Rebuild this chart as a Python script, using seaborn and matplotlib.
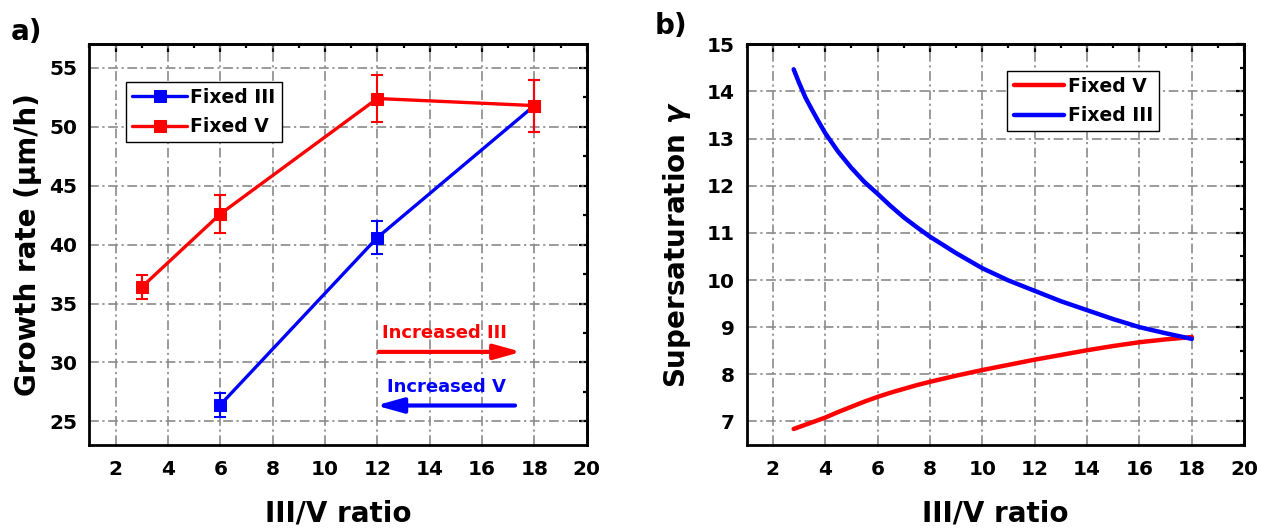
import matplotlib
matplotlib.use("Agg")
import matplotlib.pyplot as plt
from matplotlib.ticker import MultipleLocator
import seaborn as sns

# ---------------- data ----------------
# panel a: growth rate vs III/V ratio
fixed_iii_x = [6, 12, 18]
fixed_iii_y = [26.4, 40.6, 51.8]
fixed_iii_err = [1.0, 1.4, 2.2]

fixed_v_x = [3, 6, 12, 18]
fixed_v_y = [36.4, 42.6, 52.4, 51.8]
fixed_v_err = [1.05, 1.65, 2.0, 2.2]

# panel b: supersaturation vs III/V ratio
ratio_b = [2.8, 3.0, 3.25, 3.5, 3.75, 4.0, 4.5, 5.0, 5.5, 6.0, 6.5, 7.0, 7.5, 8.0,
           9, 10, 11, 12, 13, 14, 15, 16, 17, 18]
gamma_fixed_v = [6.84, 6.88, 6.93, 6.98, 7.03, 7.08, 7.20, 7.31, 7.42, 7.52, 7.61,
                 7.69, 7.77, 7.84, 7.97, 8.09, 8.20, 8.31, 8.41, 8.51, 8.60, 8.68,
                 8.74, 8.79]
gamma_fixed_iii = [14.47, 14.19, 13.87, 13.61, 13.36, 13.12, 12.72, 12.38, 12.08,
                   11.83, 11.57, 11.33, 11.12, 10.92, 10.57, 10.25, 9.99, 9.77, 9.55,
                   9.36, 9.17, 9.00, 8.87, 8.75]

x_ticks = [2, 4, 6, 8, 10, 12, 14, 16, 18, 20]
ya_ticks = [25, 30, 35, 40, 45, 50, 55]
yb_ticks = [7, 8, 9, 10, 11, 12, 13, 14, 15]

RED = "#ff0000"
BLUE = "#0000ff"

# ---------------- style ----------------
sns.set_style("white")
plt.rcParams["font.family"] = ["DejaVu Sans"]
plt.rcParams["font.weight"] = "bold"
plt.rcParams["axes.labelweight"] = "bold"
plt.rcParams["lines.scale_dashes"] = False
plt.rcParams["text.color"] = "black"
plt.rcParams["axes.labelcolor"] = "black"
plt.rcParams["xtick.color"] = "black"
plt.rcParams["ytick.color"] = "black"

fig = plt.figure(figsize=(12.64, 5.30), dpi=100)
ax_a = fig.add_axes([0.0707, 0.1604, 0.3935, 0.756])
ax_b = fig.add_axes([0.5906, 0.1604, 0.3938, 0.756])

TICK_FS = 14.5
LABEL_FS = 20
GRID_LS = (0, (7, 2.6, 1.6, 2.6))


def style_axes(ax, yticks, yminor, ylim):
    ax.set_xlim(1, 20)
    ax.set_ylim(*ylim)
    ax.set_xticks(x_ticks)
    ax.set_yticks(yticks)
    ax.xaxis.set_minor_locator(MultipleLocator(1))
    ax.yaxis.set_minor_locator(MultipleLocator(yminor))
    ax.set_axisbelow(True)
    ax.grid(True, which="major", color="#8a8a8a", linestyle=GRID_LS, linewidth=1.2)
    for s in ax.spines.values():
        s.set_linewidth(2.0)
        s.set_color("black")
        s.set_visible(True)
    ax.tick_params(axis="both", which="major", direction="out", length=5.5, width=1.6,
                   labelsize=TICK_FS, colors="black", pad=3)
    ax.tick_params(axis="both", which="minor", direction="out", length=3.2, width=1.6)
    ax.tick_params(axis="x", which="major", pad=5)
    for lab in ax.get_xticklabels() + ax.get_yticklabels():
        lab.set_fontweight("bold")
    # inward ticks on top and right
    top = ax.secondary_xaxis("top")
    top.set_xticks(x_ticks)
    top.xaxis.set_minor_locator(MultipleLocator(1))
    top.tick_params(axis="x", which="major", direction="in", length=5.5, width=1.6,
                    labeltop=False, labelbottom=False)
    top.tick_params(axis="x", which="minor", direction="in", length=3.2, width=1.6)
    top.spines["top"].set_linewidth(2.0)
    right = ax.secondary_yaxis("right")
    right.set_yticks(yticks)
    right.yaxis.set_minor_locator(MultipleLocator(yminor))
    right.tick_params(axis="y", which="major", direction="in", length=5.5, width=1.6,
                      labelright=False, labelleft=False)
    right.tick_params(axis="y", which="minor", direction="in", length=3.2, width=1.6)
    right.spines["right"].set_linewidth(2.0)


# ---------------- panel a ----------------
sns.lineplot(x=fixed_iii_x, y=fixed_iii_y, ax=ax_a, color=BLUE, marker="s",
             markersize=9, markeredgecolor=BLUE, linewidth=2.4, sort=False,
             label="Fixed III", errorbar=None)
ax_a.errorbar(fixed_iii_x, fixed_iii_y, yerr=fixed_iii_err, fmt="none", ecolor=BLUE,
              elinewidth=1.5, capsize=4.5, capthick=1.5)
sns.lineplot(x=fixed_v_x, y=fixed_v_y, ax=ax_a, color=RED, marker="s",
             markersize=9, markeredgecolor=RED, linewidth=2.4, sort=False,
             label="Fixed V", errorbar=None)
ax_a.errorbar(fixed_v_x, fixed_v_y, yerr=fixed_v_err, fmt="none", ecolor=RED,
              elinewidth=1.5, capsize=4.5, capthick=1.5)

style_axes(ax_a, ya_ticks, 2.5, (23, 57))
ax_a.set_xlabel("III/V ratio", fontsize=LABEL_FS, fontweight="bold")
ax_a.set_ylabel("Growth rate (\u03bcm/h)", fontsize=LABEL_FS, fontweight="bold")
ax_a.xaxis.set_label_coords(0.5, -0.135)
ax_a.yaxis.set_label_coords(-0.095, 0.5)

leg_a = ax_a.legend(loc="upper left", bbox_to_anchor=(0.074, 0.907), frameon=True,
                    fancybox=False, edgecolor="black", framealpha=1,
                    prop=dict(weight="bold", size=13.5), handlelength=2.9,
                    handletextpad=0.2, borderpad=0.33, labelspacing=0.55,
                    borderaxespad=0)
leg_a.get_frame().set_linewidth(1.0)

# arrows with annotations
ax_a.annotate("", xy=(17.5, 30.9), xytext=(12.05, 30.9),
              arrowprops=dict(arrowstyle="-|>,head_length=1.15,head_width=0.32",
                              color=RED, lw=3, mutation_scale=14,
                              shrinkA=0, shrinkB=0))
ax_a.text(14.56, 32.5, "Increased III", color=RED, fontsize=13, fontweight="bold",
          ha="center", va="center")
ax_a.annotate("", xy=(11.95, 26.35), xytext=(17.26, 26.35),
              arrowprops=dict(arrowstyle="-|>,head_length=1.15,head_width=0.32",
                              color=BLUE, lw=3, mutation_scale=14,
                              shrinkA=0, shrinkB=0))
ax_a.text(14.64, 27.9, "Increased V", color=BLUE, fontsize=13, fontweight="bold",
          ha="center", va="center")

# ---------------- panel b ----------------
sns.lineplot(x=ratio_b, y=gamma_fixed_v, ax=ax_b, color=RED, linewidth=3.2,
             sort=False, label="Fixed V", errorbar=None)
sns.lineplot(x=ratio_b, y=gamma_fixed_iii, ax=ax_b, color=BLUE, linewidth=3.2,
             sort=False, label="Fixed III", errorbar=None)

style_axes(ax_b, yb_ticks, 0.5, (6.5, 15))
ax_b.set_xlabel("III/V ratio", fontsize=LABEL_FS, fontweight="bold")
ax_b.set_ylabel("Supersaturation $\\gamma$", fontsize=LABEL_FS, fontweight="bold")
ax_b.xaxis.set_label_coords(0.5, -0.135)
ax_b.yaxis.set_label_coords(-0.108, 0.5)

leg_b = ax_b.legend(loc="upper left", bbox_to_anchor=(0.524, 0.934), frameon=True,
                    fancybox=False, edgecolor="black", framealpha=1,
                    prop=dict(weight="bold", size=13.5), handlelength=2.7,
                    handletextpad=0.2, borderpad=0.33, labelspacing=0.55,
                    borderaxespad=0)
leg_b.get_frame().set_linewidth(1.0)

# panel labels
fig.text(0.021, 0.94, "a)", fontsize=20, fontweight="bold", ha="center", va="center")
fig.text(0.531, 0.951, "b)", fontsize=20, fontweight="bold", ha="center", va="center")

fig.savefig("out.png", dpi=100)
